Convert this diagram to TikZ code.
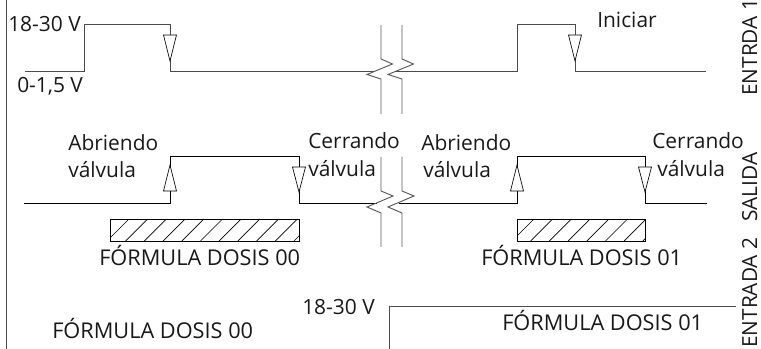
\documentclass[tikz,border=0pt]{standalone}
\usepackage{fontspec}
\setmainfont{Open Sans}
\tikzset{
  x=0.75pt,y=-0.75pt,
  wire/.style={line width=0.7pt,black!70},
  wireb/.style={line width=0.6pt,black},
  tri/.style={line width=0.5pt,fill=white,draw=black},
  lab/.style={inner sep=0pt,anchor=base west,font=\fontsize{16.3}{18}\selectfont,text=black!90},
  low/.style={lab,font=\fontsize{15.7}{18}\selectfont},
  vlab/.style={inner sep=0pt,anchor=base west,rotate=90,font=\fontsize{15.6}{18}\selectfont,text=black!90},
  hatchbox/.style={draw=black,line width=0.7pt},
  brk/.style={line width=0.7pt,black!65}
}
\begin{document}
\begin{tikzpicture}
\useasboundingbox (0,0) rectangle (761,349);
\draw[wire] (6,0) -- (6,349);
% row 1
\draw[wire] (25,71) -- (84,71) -- (84,24) -- (170,24) -- (170,71) -- (374,71);
\draw[wire] (396,71) -- (517,71) -- (517,24) -- (575,24) -- (575,71) -- (706,71);
\draw[tri] (163.5,35) -- (176.5,35) -- (170,61) -- cycle;
\draw[tri] (568.5,35) -- (581.5,35) -- (575,61) -- cycle;
% row 2
\draw[wireb] (24,203) -- (170,203) -- (170,156) -- (299,156) -- (299,203) -- (377,203);
\draw[wireb] (399,203) -- (517,203) -- (517,156) -- (645,156) -- (645,203) -- (707,203);
\draw[tri] (163.5,191) -- (176.5,191) -- (170,165) -- cycle;
\draw[tri] (510.5,191) -- (523.5,191) -- (517,165) -- cycle;
\draw[tri] (292.5,167) -- (305.5,167) -- (299,192) -- cycle;
\draw[tri] (638.5,167) -- (651.5,167) -- (645,192) -- cycle;
% breaks
\foreach \dx in {0,21}{
  \draw[brk] (381+\dx,25) -- (381+\dx,59) -- (392.5+\dx,64) -- (367+\dx,74.5) -- (381+\dx,79) -- (381+\dx,114);
  \draw[brk] (381+\dx,157) -- (381+\dx,191) -- (393+\dx,196) -- (367+\dx,207) -- (381+\dx,213) -- (381+\dx,247);
}
% hatch
\begin{scope}
\clip (110.5,219) rectangle (299,241);
\foreach \i in {0,...,11}{\draw[line width=0.5pt] (107+18.7*\i,241) -- (129+18.7*\i,219);}
\end{scope}
\draw[hatchbox] (110.5,219) rectangle (299,241);
\begin{scope}
\clip (517,219) rectangle (645.5,241);
\foreach \i in {0,...,7}{\draw[line width=0.5pt] (512+18.7*\i,241) -- (534+18.7*\i,219);}
\end{scope}
\draw[hatchbox] (517,219) rectangle (645.5,241);
% bottom
\draw[wire] (389,349) -- (389,306) -- (736,306);
% text
\node[low] (t1) at (8,32) {18-30 V};
\node[low] (t2) at (17,93) {0-1,5 V};
\node[low] (t3) at (68,151) {Abriendo};
\node[low] (t4) at (68,178) {válvula};
\node[low] (t5) at (308,149) {Cerrando};
\node[low] (t6) at (308,177) {válvula};
\node[low] (t7) at (421,151) {Abriendo};
\node[low] (t8) at (423,178) {válvula};
\node[low] (t9) at (652,149) {Cerrando};
\node[low] (t10) at (657,177) {válvula};
\node[low] (t11) at (597,28) {Iniciar};
\node[lab] (t12) at (99,266) {FÓRMULA DOSIS 00};
\node[lab] (t13) at (481,266) {FÓRMULA DOSIS 01};
\node[lab] (t14) at (52,339) {FÓRMULA DOSIS 00};
\node[lab] (t15) at (502,330) {FÓRMULA DOSIS 01};
\node[low] (t16) at (302,315) {18-30 V};
\node[vlab] (t17) at (757,96) {ENTRDA 1};
\node[vlab] (t18) at (757,222) {SALIDA};
\node[vlab] (t19) at (757,348) {ENTRADA 2};
\end{tikzpicture}
\end{document}
